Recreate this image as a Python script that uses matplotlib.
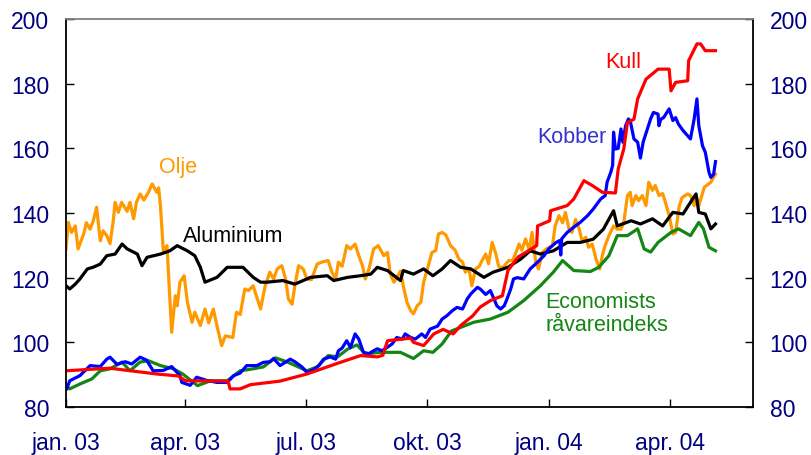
# Raw material prices, index, jan. 2003 - mai 2004
import numpy as np
import pandas as pd
import matplotlib
matplotlib.use('Agg')
import matplotlib.pyplot as plt
from matplotlib import rcParams

rcParams['font.family'] = ['Liberation Sans', 'DejaVu Sans']

start = pd.Timestamp('2003-01-01')

# values, x given in weeks since 1 Jan 2003
kull_w = [0, 4.7, 9.8, 12.1, 12.9, 17.5, 17.7, 18.8, 19.9, 23.1, 26.0, 28.2, 29.4,
          31.8, 33.6, 34.2, 34.7, 37.2, 37.5, 38.6, 39.7, 40.7, 41.8, 42.6, 43.9,
          44.7, 45.8, 47.1, 47.7, 48.8, 50.8, 50.9, 52.2, 52.3, 54.1, 54.8, 55.9,
          56.8, 57.9, 59.3, 59.6, 60.2, 60.6, 61.3, 61.7, 62.6, 63.9, 65.1, 65.3,
          65.8, 67.1, 67.2, 68.1, 68.5, 69.0, 70.1]
kull_v = [91.2, 92.0, 90.2, 89.6, 88.1, 88.0, 85.6, 85.6, 86.9, 88.0, 90.2, 92.4, 93.6,
          95.9, 95.5, 96.0, 100.5, 101.3, 100.0, 99.0, 102.6, 104.0, 102.6, 105.2, 108.2,
          110.9, 112.9, 114.4, 122.2, 126.4, 129.9, 136.0, 137.6, 140.7, 142.3, 144.3, 150.0,
          148.5, 146.4, 146.2, 153.6, 159.8, 168.0, 169.0, 175.3, 181.4, 184.5, 184.5, 177.8,
          180.4, 180.9, 187.1, 192.3, 192.3, 190.2, 190.2]

econ_w = [0, 0.4, 1.5, 2.8, 3.7, 4.75, 6.05, 6.9, 8.0, 8.9, 10.2, 11.6, 12.6, 14.2,
          15.6, 17.4, 18.8, 20.2, 21.3, 22.6, 23.9, 26.0, 27.1, 28.3, 29.3, 30.4, 31.4,
          32.3, 33.9, 36.1, 37.5, 38.6, 39.6, 40.6, 41.6, 44.0, 45.8, 47.7, 49.4, 51.2,
          52.6, 53.6, 54.8, 56.6, 57.5, 58.6, 59.5, 60.6, 61.7, 62.4, 63.1, 63.9, 65.3,
          66.1, 67.4, 68.3, 68.8, 69.4, 70.1]
econ_v = [86.6, 85.6, 87.1, 88.7, 91.2, 91.8, 93.9, 91.2, 93.9, 94.3, 92.8, 91.8, 90.2, 86.6,
          88.1, 88.1, 91.2, 91.8, 92.4, 95.2, 93.9, 91.2, 92.4, 95.9, 95.5, 97.9, 99.2,
          96.4, 96.9, 96.9, 95.0, 97.4, 96.9, 99.5, 103.5, 106.2, 107.2, 109.3, 112.9, 117.5,
          121.7, 125.3, 122.2, 121.9, 123.2, 126.8, 133.0, 133.0, 135.1, 128.9, 127.9, 130.9, 134.0,
          135.1, 133.0, 137.1, 135.1, 129.4, 128.3]

alu_w = [0, 0.4, 1.0, 1.5, 2.3, 2.9, 3.7, 4.4, 5.3, 6.05, 6.6, 7.7, 8.2, 8.75, 10.2, 11.2,
         12.0, 13.1, 13.9, 14.5, 15.0, 16.3, 17.4, 19.1, 20.2, 21.0, 21.7, 23.4, 24.7, 26.4,
         28.2, 28.9, 30.4, 31.8, 32.9, 33.6, 34.7, 36.1, 36.4, 37.5, 38.6, 39.6, 40.6, 41.5,
         42.6, 43.7, 45.1, 46.1, 47.7, 49.1, 50.1, 51.2, 52.6, 54.1, 55.5, 56.9, 58.0, 59.1,
         59.5, 61.0, 62.0, 63.3, 64.4, 65.5, 66.6, 67.4, 68.0, 68.3, 69.0, 69.6, 70.1]
alu_v = [117.5, 116.5, 118.0, 119.6, 122.7, 123.2, 124.2, 126.8, 127.3, 130.4, 128.9, 127.3,
         123.7, 126.3, 127.3, 128.3, 129.9, 128.3, 126.8, 123.2, 118.6, 120.1, 123.2, 123.2,
         120.1, 118.6, 118.6, 119.1, 118.0, 120.1, 120.6, 119.1, 120.1, 120.6, 121.1, 123.2,
         122.2, 119.1, 122.2, 121.1, 122.7, 120.6, 122.7, 125.3, 123.2, 122.7, 120.1, 121.7,
         123.2, 125.8, 128.3, 127.3, 128.3, 130.9, 130.9, 131.9, 135.0, 140.7, 136.0, 137.6,
         136.6, 138.2, 136.0, 140.2, 139.7, 143.3, 145.9, 140.2, 139.7, 135.1, 136.6]

olje_w = [0, 0.25, 0.6, 1.0, 1.3, 1.9, 2.2, 2.6, 2.95, 3.3, 3.7, 4.0, 4.4, 4.75, 5.1, 5.3,
          5.65, 6.0, 6.6, 6.9, 7.3, 7.6, 8.0, 8.4, 8.9, 9.3, 9.8, 10.0, 10.2, 10.5, 10.9,
          11.4, 11.8, 12.0, 12.3, 12.75, 13.1, 13.6, 13.9, 14.5, 15.0, 15.4, 15.9, 16.3,
          16.8, 17.2, 18.0, 18.4, 18.8, 19.3, 19.7, 20.2, 21.0, 21.5, 22.0, 22.4, 22.8,
          23.3, 23.7, 24.0, 24.4, 24.7, 25.1, 25.6, 26.0, 26.5, 27.1, 27.6, 28.3, 28.7,
          29.1, 29.4, 29.8, 30.3, 30.7, 31.2, 31.6, 32.0, 32.3, 32.7, 33.2, 33.7, 34.3,
          34.7, 35.0, 35.4, 35.7, 36.1, 36.4, 36.8, 37.2, 37.5, 37.9, 38.3, 38.6, 39.0,
          39.5, 39.9, 40.2, 40.6, 41.0, 41.5, 42.0, 42.4, 42.8, 43.1, 43.5, 43.8, 44.2,
          44.6, 44.9, 45.3, 45.6, 46.0, 46.4, 46.7, 47.1, 47.4, 47.8, 48.2, 48.5, 48.9,
          49.2, 49.6, 50.0, 50.3, 50.7, 51.0, 51.4, 51.9, 52.5, 52.8, 53.2, 53.6, 53.9,
          54.3, 54.6, 55.0, 55.4, 55.7, 56.1, 56.4, 56.8, 57.2, 57.6, 57.9, 58.2, 58.6,
          59.1, 59.5, 59.9, 60.2, 60.6, 60.9, 61.1, 61.5, 61.8, 62.2, 62.6, 62.9, 63.3,
          63.6, 64.0, 64.4, 64.7, 65.1, 65.5, 65.8, 66.2, 66.5, 67.1, 67.4, 67.8, 68.0,
          68.3, 68.9, 69.6, 70.0, 70.1]
olje_v = [128.9, 137.1, 134.0, 136.0, 128.9, 133.5, 137.0, 135.0, 137.6, 141.8, 131.4, 134.5,
          133.0, 130.5, 137.6, 143.3, 140.2, 143.3, 140.5, 143.3, 138.2, 143.3, 145.9, 144.0,
          146.4, 149.0, 146.4, 147.8, 142.0, 128.3, 129.9, 103.1, 114.4, 111.3, 118.6, 120.6,
          112.4, 106.2, 109.3, 105.2, 110.3, 106.0, 110.3, 105.0, 99.0, 102.0, 101.5, 109.3,
          108.6, 116.5, 116.0, 117.5, 110.3, 117.5, 121.7, 119.6, 122.7, 123.7, 119.6, 113.4,
          111.8, 117.5, 123.7, 122.7, 119.6, 119.4, 124.2, 124.8, 125.3, 121.7, 119.6, 124.8,
          123.5, 129.9, 128.9, 130.4, 126.8, 123.7, 119.6, 122.7, 128.9, 129.9, 126.8, 127.8,
          121.1, 118.6, 120.0, 122.0, 117.5, 112.4, 109.8, 108.8, 111.3, 112.4, 118.6, 122.7,
          127.8, 128.4, 133.5, 134.0, 133.2, 129.9, 128.5, 125.8, 124.8, 121.7, 122.7, 117.5,
          122.7, 123.5, 125.3, 127.3, 124.3, 130.9, 127.3, 123.5, 123.0, 124.0, 125.3, 125.3,
          127.3, 130.4, 128.5, 132.0, 128.5, 134.0, 124.8, 122.7, 127.8, 129.0, 129.9, 136.0,
          139.2, 137.0, 140.2, 135.0, 134.0, 138.0, 135.0, 131.4, 132.5, 129.4, 130.4, 125.8,
          122.7, 127.0, 130.0, 133.0, 136.0, 135.0, 135.0, 137.0, 145.4, 146.4, 142.3, 145.4,
          143.8, 145.4, 142.3, 149.5, 147.0, 148.5, 145.4, 146.0, 143.3, 139.2, 133.5, 134.0,
          142.3, 144.8, 145.9, 145.4, 142.3, 145.4, 142.3, 148.0, 149.5, 151.6, 152.0]

kobber_w = [0.07, 0.4, 1.5, 2.6, 3.7, 4.4, 4.75, 5.5, 6.4, 7.1, 8.0, 8.7, 9.4, 10.5, 11.4,
            12.3, 12.5, 13.4, 14.1, 15.2, 16.3, 17.4, 18.1, 18.8, 19.5, 20.6, 21.3, 22.0,
            22.4, 23.1, 24.2, 24.7, 25.5, 26.0, 26.7, 27.3, 27.8, 28.5, 29.1, 29.4, 29.8,
            30.3, 30.7, 31.2, 31.6, 32.1, 32.7, 33.2, 33.6, 34.1, 34.7, 35.2, 35.7, 36.3,
            36.6, 37.2, 37.7, 38.4, 38.8, 39.3, 40.1, 40.6, 41.1, 41.7, 42.2, 42.8, 43.3,
            43.7, 44.4, 44.7, 45.3, 45.8, 46.2, 46.5, 46.9, 47.3, 47.6, 48.0, 48.3, 48.7,
            49.4, 50.1, 50.9, 51.6, 52.1, 52.9, 53.3, 53.4, 53.5, 54.1, 54.8, 55.5, 56.3,
            56.9, 57.7, 58.2, 58.4, 58.8, 59.0, 59.1, 59.3, 59.6, 59.9, 60.1, 60.4, 60.7,
            60.9, 61.3, 61.7, 62.0, 62.3, 62.8, 63.1, 63.4, 63.9, 64.0, 64.2, 64.5, 65.1,
            65.5, 65.8, 66.1, 66.6, 67.1, 67.4, 67.8, 68.1, 68.3, 68.7, 69.0, 69.4, 69.6,
            69.9, 70.1]
kobber_v = [85.6, 88.1, 89.7, 92.8, 92.5, 94.8, 95.4, 93.2, 94.0, 93.3, 95.4, 94.5, 91.2,
            91.3, 92.5, 89.7, 87.6, 86.7, 89.2, 88.2, 87.6, 87.6, 89.7, 90.5, 92.8, 92.8,
            93.8, 94.0, 95.0, 92.8, 94.8, 94.0, 92.3, 90.7, 91.5, 92.8, 94.8, 95.5, 94.8,
            97.4, 98.2, 100.5, 98.4, 102.6, 101.0, 96.9, 96.5, 97.4, 98.0, 97.4, 98.5, 99.5,
            101.5, 101.0, 102.6, 101.5, 101.0, 102.6, 101.5, 104.1, 105.0, 107.2, 108.2,
            109.8, 110.8, 110.3, 113.4, 115.0, 117.0, 116.5, 114.8, 116.0, 113.4, 111.3,
            110.3, 111.3, 113.4, 116.5, 119.6, 120.0, 119.6, 122.7, 124.8, 126.8, 128.9,
            130.9, 131.5, 127.0, 132.0, 134.0, 135.6, 137.1, 139.2, 141.2, 144.3, 145.4,
            149.5, 152.6, 154.7, 165.0, 159.8, 160.0, 166.0, 161.9, 167.0, 169.1, 168.5,
            162.9, 161.9, 157.0, 162.0, 166.5, 169.1, 171.1, 170.6, 167.0, 169.0, 169.5,
            172.2, 168.6, 169.5, 167.5, 165.5, 163.9, 162.9, 169.1, 175.3, 167.0, 160.8,
            158.8, 152.6, 151.0, 152.0, 155.9]

tick_dates = ['2003-01-01', '2003-04-01', '2003-07-01', '2003-10-01', '2004-01-01', '2004-04-01']
tick_labels = ['jan. 03', 'apr. 03', 'jul. 03', 'okt. 03', 'jan. 04', 'apr. 04']


def to_dates(weeks):
    return start + pd.to_timedelta(np.array(weeks) * 7, unit='D')


def day(n):
    return start + pd.Timedelta(days=n)


fig = plt.figure(figsize=(8.11, 4.56), dpi=100)
ax = fig.add_axes([0.0814, 0.1053, 0.847, 0.8508])

lw = 2.3
ax.plot(to_dates(olje_w), olje_v, color='#ff9900', lw=lw)
ax.plot(to_dates(alu_w), alu_v, color='black', lw=lw)
ax.plot(to_dates(econ_w), econ_v, color='#138613', lw=lw)
ax.plot(to_dates(kobber_w), kobber_v, color='#0000ff', lw=lw)
ax.plot(to_dates(kull_w), kull_v, color='#ff0000', lw=lw)

ax.set_ylim(80, 200)
ax.set_yticks(range(80, 201, 20))
ax.set_xlim(pd.Timestamp('2003-01-01'), pd.Timestamp('2004-06-03'))
ax.set_xticks(pd.to_datetime(tick_dates))
ax.set_xticklabels(tick_labels)

ax.tick_params(axis='y', direction='in', length=6, width=1, left=True, right=True,
               labelleft=True, labelright=True, labelsize=16.5, labelcolor='#000080', pad=12)
ax.tick_params(axis='x', direction='in', length=6, width=1, labelsize=16.5,
               labelcolor='#000080', pad=17)

for side in ['left', 'bottom', 'right']:
    ax.spines[side].set_color('black')
    ax.spines[side].set_linewidth(1.3)
ax.spines['top'].set_color('#808080')
ax.spines['top'].set_linewidth(1.3)

# series labels
fs = 15.5
ax.text(day(70), 154.5, 'Olje', color='#ff9900', fontsize=fs, va='center')
ax.text(day(88.5), 133, 'Aluminium', color='black', fontsize=fs, va='center')
ax.text(day(356), 163.8, 'Kobber', color='#3333cc', fontsize=fs, va='center')
ax.text(day(407.5), 187, 'Kull', color='#ff0000', fontsize=fs, va='center')
ax.text(day(362), 109, 'Economists\nråvareindeks', color='#138613',
        fontsize=fs, va='center', linespacing=1.1)

fig.savefig('out.png', dpi=100)
